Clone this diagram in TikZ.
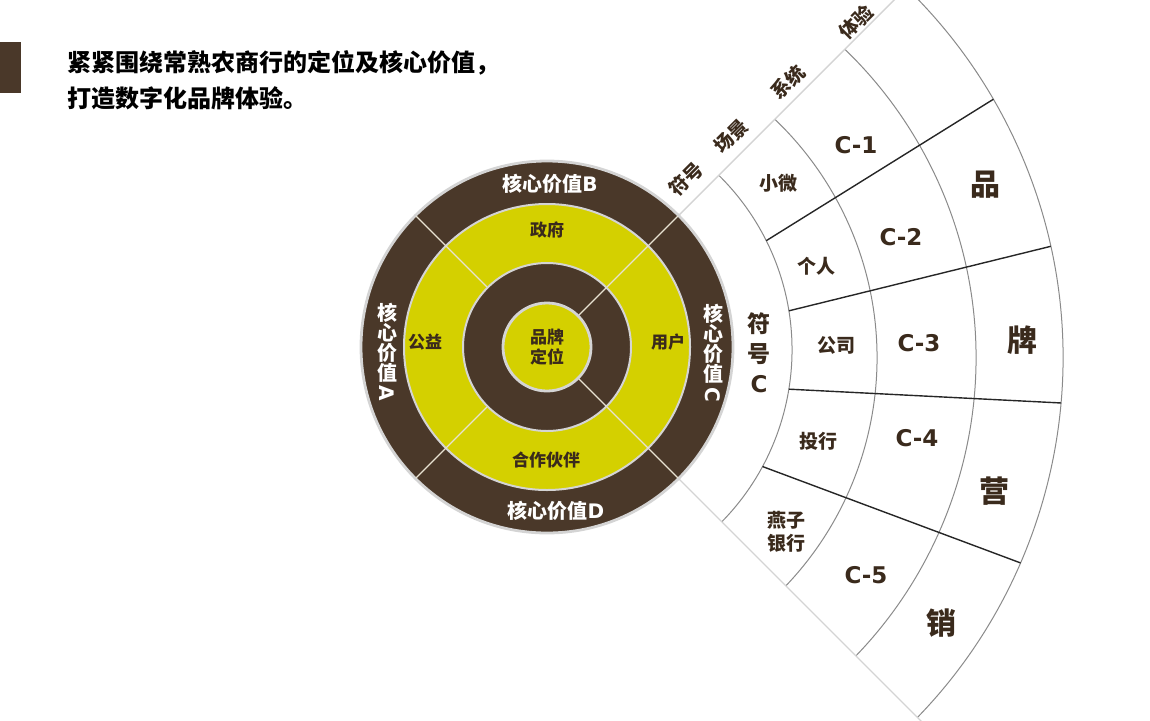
\documentclass[tikz,border=0pt]{standalone}
\usepackage{fontspec}
\setmainfont{Noto Sans CJK SC}
\newfontfamily\latfont{DejaVu Sans}
\usetikzlibrary{calc}
\definecolor{bark}{HTML}{4A3829}
\definecolor{lemon}{HTML}{D4D000}
\definecolor{inkbrown}{HTML}{3A2A1C}
\definecolor{rimgrey}{HTML}{D4D4D4}
\definecolor{seam}{HTML}{E8E2D2}
\definecolor{arcgrey}{HTML}{8A8A8A}

\tikzset{
  ringtext/.style={text=white, font=\bfseries\fontsize{10}{10}\selectfont, align=center, inner sep=0pt},
  segtext/.style={text=inkbrown, font=\bfseries\fontsize{8.5}{10}\selectfont, align=center, inner sep=0pt},
  headtext/.style={text=inkbrown, font=\bfseries\fontsize{9.5}{10}\selectfont, rotate=45, inner sep=0pt},
  celltext/.style={text=inkbrown, font=\bfseries\fontsize{9.5}{11.5}\selectfont, align=center, inner sep=0pt},
  codetext/.style={text=inkbrown, font=\latfont\bfseries\fontsize{11.5}{12}\selectfont, inner sep=0pt},
  bigtext/.style={text=inkbrown, font=\bfseries\fontsize{15}{16}\selectfont, inner sep=0pt},
  seamline/.style={draw=seam, line width=0.6pt},
  fanedge/.style={draw=rimgrey, line width=0.7pt},
  fanarc/.style={draw=arcgrey, line width=0.5pt},
  cellline/.style={draw=black!85, line width=0.7pt},
}

\begin{document}
\begin{tikzpicture}[x=0.5pt,y=0.5pt]
\useasboundingbox (0,0) rectangle (1150,720);
\clip (0,0) rectangle (1150,720);

\coordinate (C) at (547,373);   % wheel centre
\coordinate (A1) at (547,370);  % first fan arc
\coordinate (F) at (547,362);   % outer fan arcs

% heading
\fill[bark] (0,627) rectangle (21,678);
\node[anchor=west, align=left, inner sep=0pt, font=\bfseries\fontsize{12}{18}\selectfont] (title) at (67,640)
  {紧紧围绕常熟农商行的定位及核心价值，\\打造数字化品牌体验。};

% fan
\begin{scope}
\clip (C) -- ($(C)+(45:800)$) -- ($(C)+(0:1130)$) -- ($(C)+(-45:800)$) -- cycle;
\draw[fanarc] (A1) ++(-60:245) arc[start angle=-60, end angle=60, radius=245];
\foreach \r in {330,429,516}
  \draw[fanarc] (F) ++(-60:\r) arc[start angle=-60, end angle=60, radius=\r];
\end{scope}
\foreach \a in {45,-45}
  \draw[fanedge] ($(C)+(\a:187)$) -- ($(C)+(\a:560)$);
\foreach \a/\b in {26.5/30.1, 9.2/12.5, -9.2/-5, -28.4/-23.4}
  \draw[cellline] ($(A1)+(\a:245)$) -- ($(F)+(\b:516)$);

% wheel
\filldraw[fill=bark, draw=rimgrey, line width=1.4pt] (C) circle[radius=186];
\filldraw[fill=lemon, draw=rimgrey, line width=1pt] (C) circle[radius=143];
\filldraw[fill=bark, draw=rimgrey, line width=1pt] (C) circle[radius=84];
\foreach \a in {45,135,225,315}
  \draw[seamline] ($(C)+(\a:85)$) -- ($(C)+(\a:185)$);
\foreach \a in {45,-45}
  \draw[seamline] ($(C)+(\a:45)$) -- ($(C)+(\a:84)$);
\filldraw[fill=lemon, draw=rimgrey, line width=1.4pt] (C) circle[radius=44];

% wheel labels
\node[ringtext] (valB) at (550,536) {核心价值{\latfont B}};
\node[ringtext] (valD) at (556,209) {核心价值{\latfont D}};
\node[ringtext] (valA) at (387,368) {核\\心\\价\\值\\\rotatebox[origin=c]{-90}{\latfont A}};
\node[ringtext] (valC) at (713,367) {核\\心\\价\\值\\\rotatebox[origin=c]{-90}{\latfont C}};
\node[segtext] (gov) at (547,490) {政府};
\node[segtext] (pub) at (425,378) {公益};
\node[segtext] (user) at (668,378) {用户};
\node[segtext] (partner) at (546,260) {合作伙伴};
\node[segtext] (core) at (547,373) {品牌\\定位};

% fan headings
\node[headtext] (hSym) at (686,541) {符号};
\node[headtext] (hScene) at (731,584) {场景};
\node[headtext] (hSys) at (788,638) {系统};
\node[headtext] (hExp) at (856,698) {体验};

% fan cells
\node[celltext, font=\bfseries\fontsize{11.5}{15}\selectfont] (symC) at (759,367) {符\\号\\{\latfont C}};
\node[celltext] (small) at (778,537) {小微};
\node[celltext] (person) at (816,454) {个人};
\node[celltext] (firm) at (836,375) {公司};
\node[celltext] (invest) at (818,279) {投行};
\node[celltext] (swallow) at (786,188) {燕子\\银行};
\node[codetext] (c1) at (856,575) {C-1};
\node[codetext] (c2) at (901,483) {C-2};
\node[codetext] (c3) at (919,377) {C-3};
\node[codetext] (c4) at (917,282) {C-4};
\node[codetext] (c5) at (866,145) {C-5};
\node[bigtext] (pin) at (985,535) {品};
\node[bigtext] (pai) at (1022,380) {牌};
\node[bigtext] (ying) at (994,229) {营};
\node[bigtext] (xiao) at (941,97) {销};
\end{tikzpicture}
\end{document}
